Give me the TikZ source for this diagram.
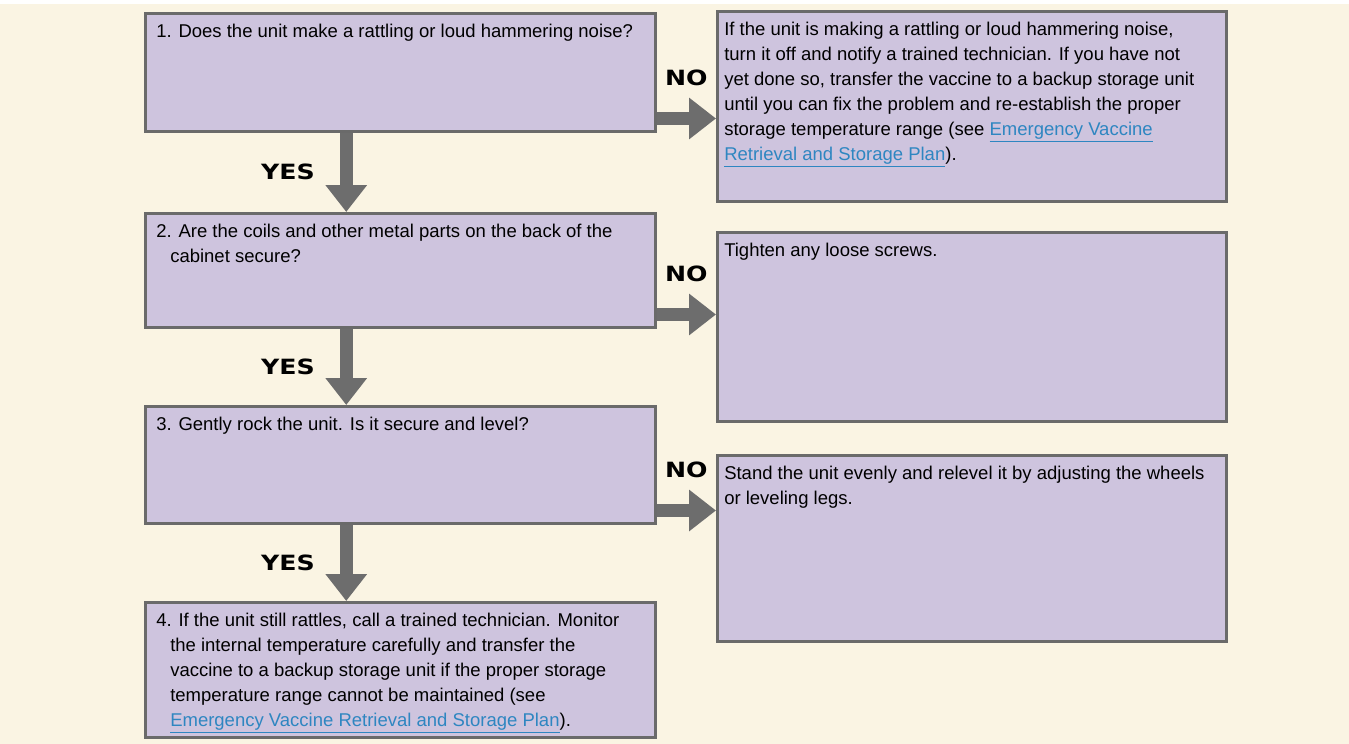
\documentclass[tikz,border=0pt]{standalone}
\usepackage{fontspec}
\setmainfont{Liberation Sans}
\newfontfamily\answerfont{DejaVu Sans}[FakeStretch=1.2]
\usetikzlibrary{arrows.meta,calc}

\definecolor{pagebg}{HTML}{FAF4E3}
\definecolor{boxfill}{HTML}{CEC4DE}
\definecolor{boxline}{HTML}{6A6A6A}
\definecolor{arrowgray}{HTML}{6D6D6D}
\definecolor{linkblue}{HTML}{2E86C1}

\newcommand\boxtext[3]{\parbox[c][#2][t]{#1}{\raggedright\strut#3}}
\newcommand\planlink[1]{{\color{linkblue}\underline{#1}}}

\begin{document}
\begin{tikzpicture}[x=1pt,y=-1pt]
  \useasboundingbox (0,0) rectangle (1349,744);
  \fill[pagebg] (0,0) rectangle (1349,744);
  \fill[white] (0,0) rectangle (1349,4);

  \begin{scope}[every node/.style={draw=boxline, line width=2.5pt, fill=boxfill, anchor=north west, inner ysep=7pt, font=\fontsize{18.5}{25}\selectfont}]
    % questions
    \node[inner xsep=11pt] (q1) at (144,12)  {\boxtext{488pt}{104pt}{1. Does the unit make a rattling or loud hammering noise?}};
    \node[inner xsep=11pt] (q2) at (144,212) {\boxtext{488pt}{100pt}{\hangindent=14pt\hangafter=1 2. Are the coils and other metal parts on the back of the\newline cabinet secure?}};
    \node[inner xsep=11pt] (q3) at (144,405) {\boxtext{488pt}{103pt}{3. Gently rock the unit. Is it secure and level?}};
    \node[inner xsep=11pt] (q4) at (144,601) {\boxtext{488pt}{121pt}{\hangindent=14pt\hangafter=1 4. If the unit still rattles, call a trained technician. Monitor\newline the internal temperature carefully and transfer the\newline vaccine to a backup storage unit if the proper storage\newline temperature range cannot be maintained (see\newline \planlink{Emergency Vaccine Retrieval and Storage Plan}).}};
    % actions
    \node[inner xsep=7pt] (a1) at (716,10)  {\boxtext{495pt}{176pt}{If the unit is making a rattling or loud hammering noise,\\ turn it off and notify a trained technician. If you have not\\ yet done so, transfer the vaccine to a backup storage unit\\ until you can fix the problem and re-establish the proper\\ storage temperature range (see \planlink{Emergency Vaccine}\\ \planlink{Retrieval and Storage Plan}).}};
    \node[inner xsep=7pt] (a2) at (716,231) {\boxtext{495pt}{175pt}{Tighten any loose screws.}};
    \node[inner xsep=7pt] (a3) at (716,454) {\boxtext{495pt}{172pt}{Stand the unit evenly and relevel it by adjusting the wheels\\ or leveling legs.}};
  \end{scope}

  \begin{scope}[every edge/.style={draw=arrowgray, line width=13pt, -{Triangle[length=27pt,width=40pt]}}, every node/.style={font=\answerfont\fontsize{21}{21}\selectfont\bfseries, inner sep=0pt}]
    \path ([xshift=-54pt]q1.south) edge node[left=25pt] (yes1) {YES} ([xshift=-54pt]q2.north);
    \path ([xshift=-54pt]q2.south) edge node[left=25pt] (yes2) {YES} ([xshift=-54pt]q3.north);
    \path ([xshift=-54pt]q3.south) edge node[left=25pt] (yes3) {YES} ([xshift=-54pt]q4.north);
    \path ($(q1.south east)+(0,14pt)$) edge node[above=26pt] (no1) {NO} ($(q1.south east -| a1.west)+(0,14pt)$);
    \path ($(q2.south east)+(0,14pt)$) edge node[above=26pt] (no2) {NO} ($(q2.south east -| a2.west)+(0,14pt)$);
    \path ($(q3.south east)+(0,14pt)$) edge node[above=26pt] (no3) {NO} ($(q3.south east -| a3.west)+(0,14pt)$);
  \end{scope}

\end{tikzpicture}
\end{document}
